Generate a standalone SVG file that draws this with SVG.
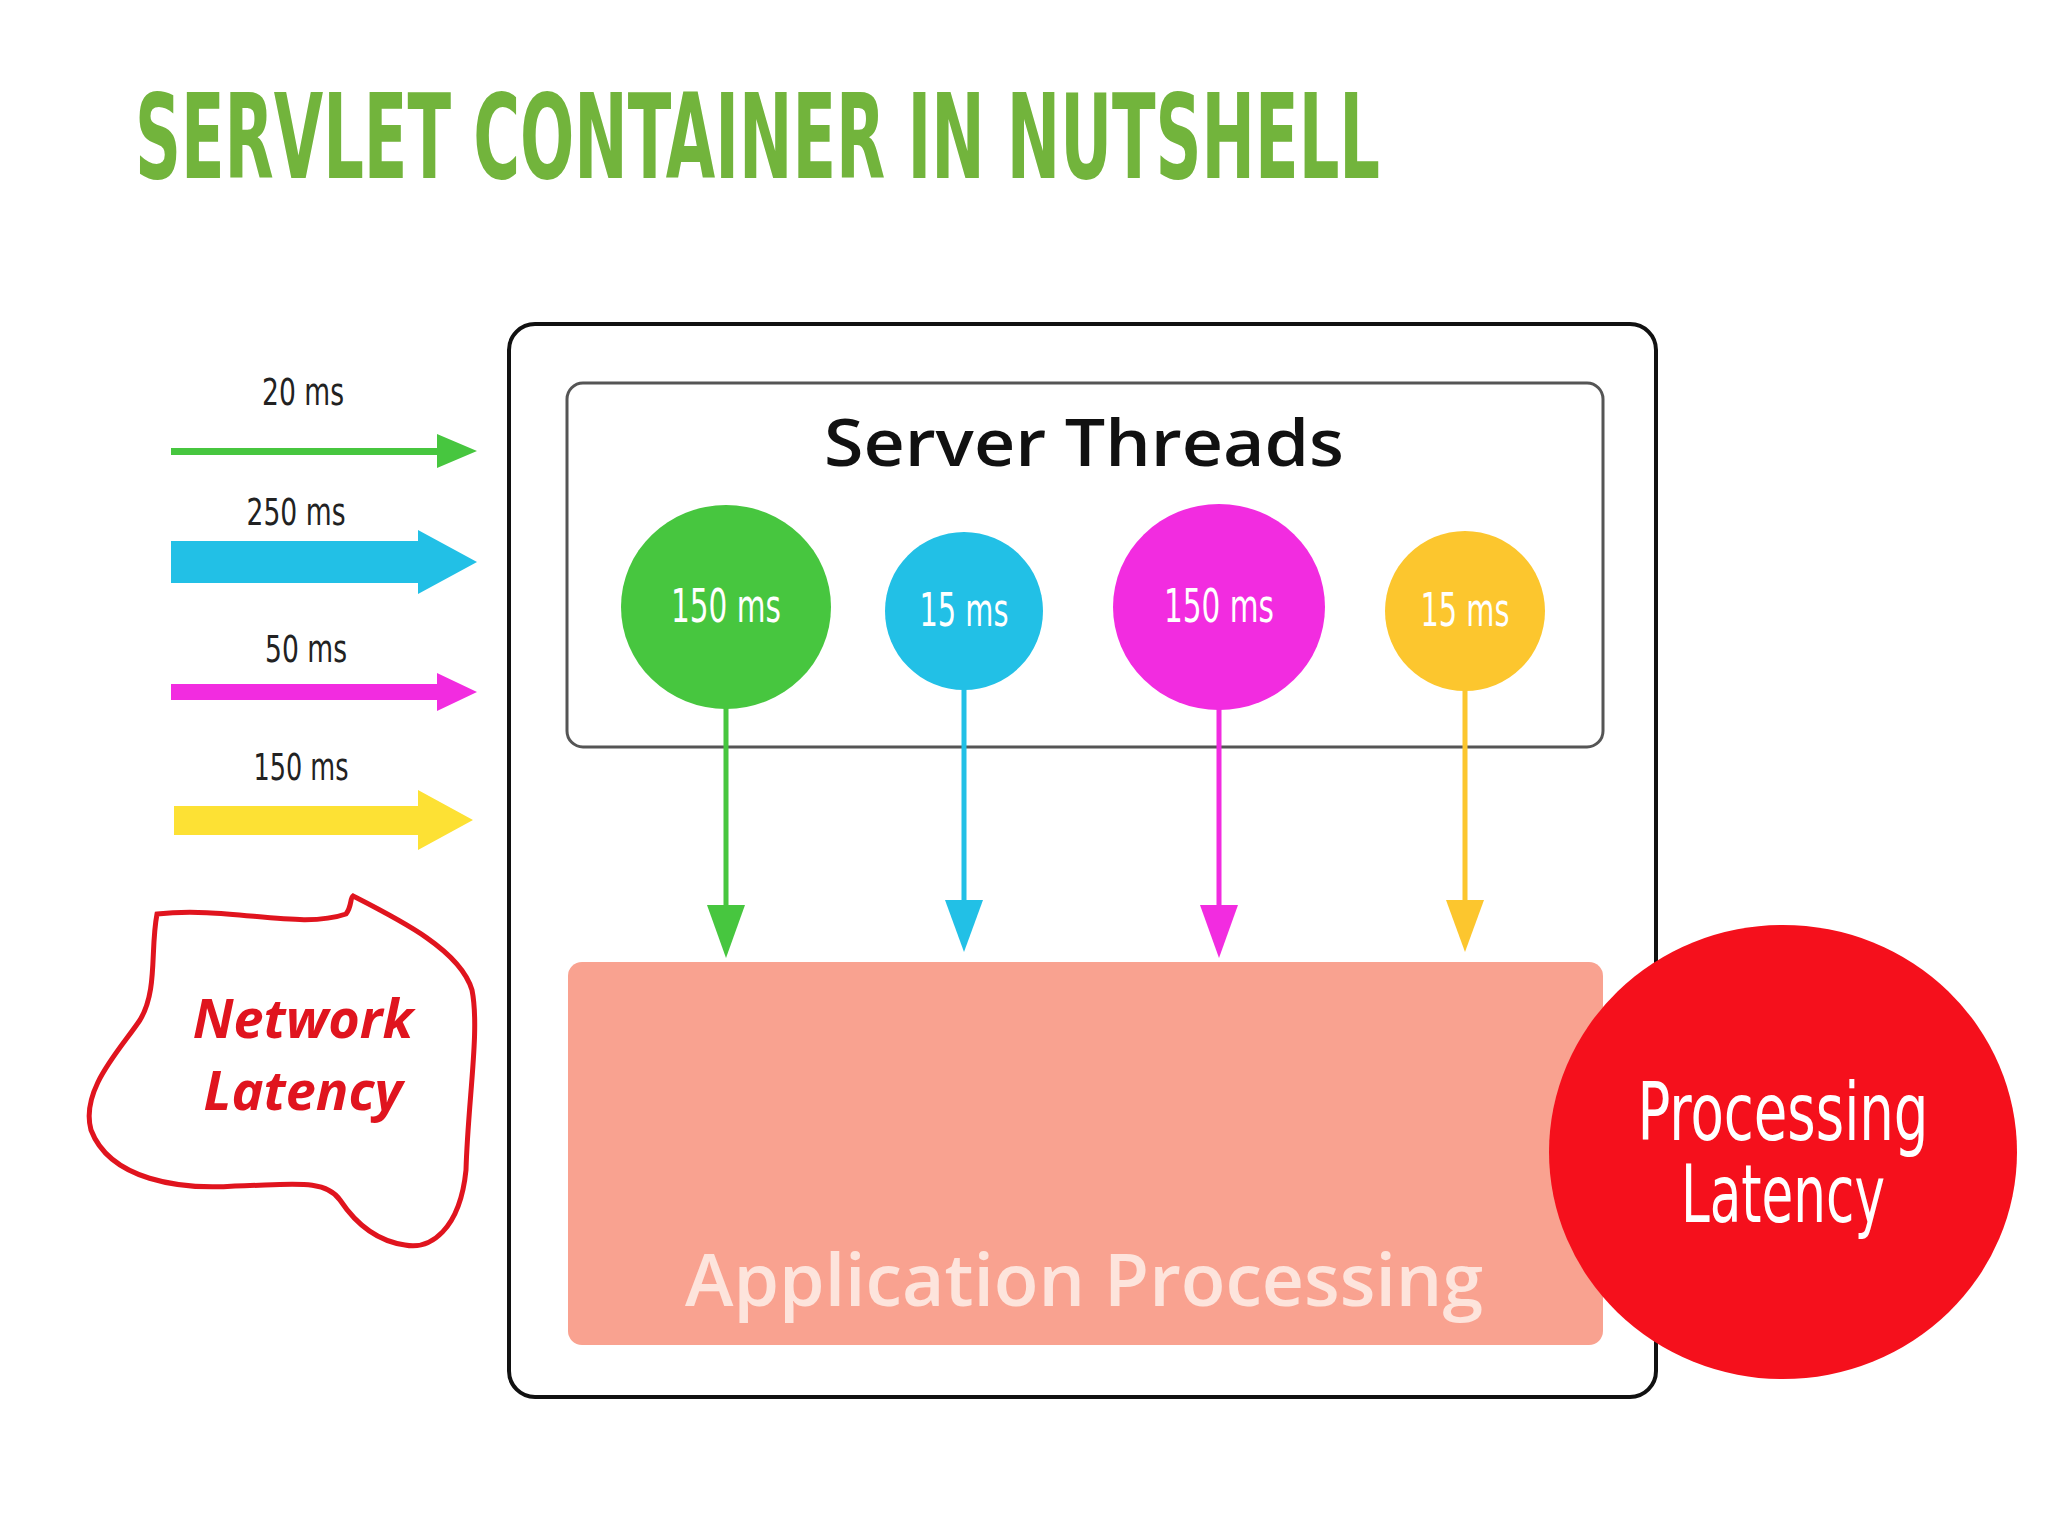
<svg xmlns="http://www.w3.org/2000/svg" width="2048" height="1536" viewBox="0 0 2048 1536">
<style>
.cond{font-family:"DejaVu Sans Condensed","Liberation Sans Narrow","Liberation Sans",sans-serif;font-stretch:condensed}
.lbl{font-size:38px;fill:#222;text-anchor:middle}
.ct{font-size:46px;fill:#fff;text-anchor:middle}
</style>
<rect width="2048" height="1536" fill="#fff"/>
<text x="135" y="178" class="cond" font-size="118" font-weight="bold" fill="#72b43c" textLength="1245" lengthAdjust="spacingAndGlyphs">SERVLET CONTAINER IN NUTSHELL</text>
<g id="container"><rect x="509" y="324" width="1147" height="1073" rx="26" fill="#fff" stroke="#111" stroke-width="4"/></g>
<g id="threads-box"><rect x="567" y="383" width="1036" height="364" rx="16" fill="#fff" stroke="#555" stroke-width="3"/>
<text x="1084" y="466" font-family="'Open Sans', sans-serif" font-size="66" font-weight="600" fill="#111" text-anchor="middle" textLength="520" lengthAdjust="spacingAndGlyphs">Server Threads</text></g>
<g id="connectors">
<line x1="726" y1="700" x2="726" y2="910" stroke="#47c63f" stroke-width="5"/><polygon points="707,905 745,905 726,958" fill="#47c63f"/>
<line x1="964" y1="680" x2="964" y2="910" stroke="#22c0e6" stroke-width="5"/><polygon points="945,900 983,900 964,952" fill="#22c0e6"/>
<line x1="1219" y1="700" x2="1219" y2="910" stroke="#f22ce0" stroke-width="5"/><polygon points="1200,905 1238,905 1219,958" fill="#f22ce0"/>
<line x1="1465" y1="680" x2="1465" y2="910" stroke="#fcc62e" stroke-width="5"/><polygon points="1446,900 1484,900 1465,952" fill="#fcc62e"/>
<polygon points="171,448 437,448 437,434 477,451 437,468 437,455 171,455" fill="#47c63f"/>
<polygon points="171,541 418,541 418,530 477,562 418,594 418,583 171,583" fill="#22c0e6"/>
<polygon points="171,684 437,684 437,673 477,692 437,711 437,700 171,700" fill="#f22ce0"/>
<polygon points="174,806 418,806 418,790 473,820 418,850 418,835 174,835" fill="#fde134"/>
</g>
<g id="arrow-labels" class="cond">
<text x="303" y="405" class="lbl" textLength="82" lengthAdjust="spacingAndGlyphs">20 ms</text>
<text x="296" y="525" class="lbl" textLength="99" lengthAdjust="spacingAndGlyphs">250 ms</text>
<text x="306" y="662" class="lbl" textLength="82" lengthAdjust="spacingAndGlyphs">50 ms</text>
<text x="301" y="780" class="lbl" textLength="95" lengthAdjust="spacingAndGlyphs">150 ms</text>
</g>
<g id="t1"><ellipse cx="726" cy="607" rx="105" ry="102" fill="#47c63f"/><text x="726" y="622" class="cond ct" textLength="110" lengthAdjust="spacingAndGlyphs">150 ms</text></g>
<g id="t2"><circle cx="964" cy="611" r="79" fill="#22c0e6"/><text x="964" y="626" class="cond ct" textLength="89" lengthAdjust="spacingAndGlyphs">15 ms</text></g>
<g id="t3"><ellipse cx="1219" cy="607" rx="106" ry="103" fill="#f22ce0"/><text x="1219" y="622" class="cond ct" textLength="110" lengthAdjust="spacingAndGlyphs">150 ms</text></g>
<g id="t4"><circle cx="1465" cy="611" r="80" fill="#fcc62e"/><text x="1465" y="626" class="cond ct" textLength="89" lengthAdjust="spacingAndGlyphs">15 ms</text></g>
<g id="app"><rect x="568" y="962" width="1035" height="383" rx="14" fill="#f9a290"/>
<text x="1084" y="1306" font-family="'Open Sans', sans-serif" font-size="72" font-weight="600" fill="#fde4dc" text-anchor="middle" textLength="798" lengthAdjust="spacingAndGlyphs">Application Processing</text></g>
<g id="processing"><ellipse cx="1783" cy="1152" rx="234" ry="227" fill="#f5101c"/>
<text x="1783" y="1140" class="cond" font-size="80" fill="#fff" text-anchor="middle" textLength="291" lengthAdjust="spacingAndGlyphs">Processing</text>
<text x="1783" y="1222" class="cond" font-size="80" fill="#fff" text-anchor="middle" textLength="204" lengthAdjust="spacingAndGlyphs">Latency</text></g>
<g id="network"><path d="M157,914 C230,906 300,930 346,914 C352,906 350,898 353,896 C400,920 460,950 472,990 C480,1030 468,1100 466,1170 C460,1230 430,1250 405,1245 C370,1240 350,1215 340,1200 C325,1178 290,1185 235,1186 C180,1190 110,1180 91,1130 C80,1090 120,1050 140,1020 C158,990 150,950 157,914 Z" fill="none" stroke="#e0141e" stroke-width="5"/>
<text x="303" y="1038" font-family="'Open Sans', sans-serif" font-size="54" font-weight="bold" font-style="italic" fill="#e0141e" text-anchor="middle">Network</text>
<text x="303" y="1110" font-family="'Open Sans', sans-serif" font-size="54" font-weight="bold" font-style="italic" fill="#e0141e" text-anchor="middle">Latency</text></g>
</svg>
